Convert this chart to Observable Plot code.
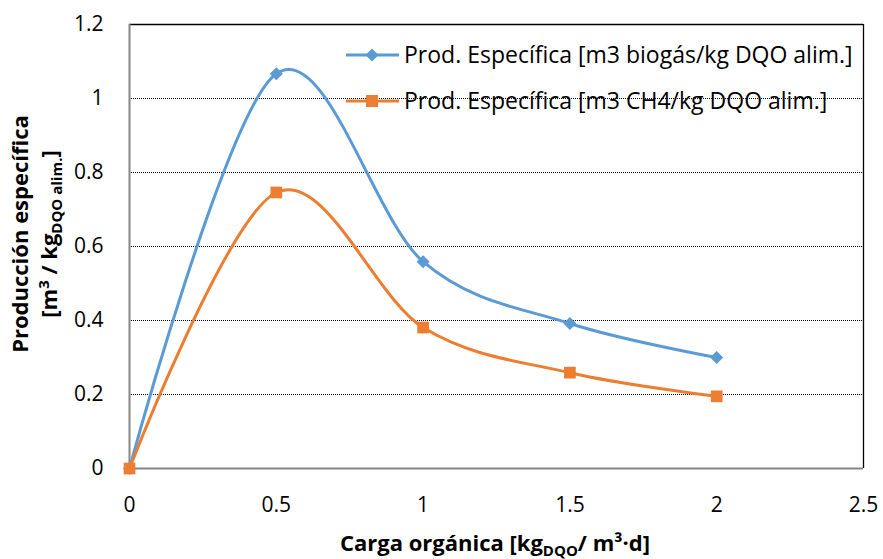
<!DOCTYPE html>
<html>
<head>
<meta charset="utf-8">
<script src="https://cdn.jsdelivr.net/npm/d3@7"></script>
<script src="https://cdn.jsdelivr.net/npm/@observablehq/plot@0.6"></script>
<style>
  html, body { margin: 0; padding: 0; background: #fff; }
  #chart svg { display: block; }
</style>
</head>
<body>
<div id="chart"></div>
<script>
// ---- Data ----
const cargaOrganica = [0, 0.5, 1, 1.5, 2];
const prodBiogas = [0, 1.067, 0.559, 0.392, 0.300];
const prodCH4 = [0, 0.746, 0.381, 0.259, 0.195];
const seriesNames = [
  "Prod. Específica [m3 biogás/kg DQO alim.]",
  "Prod. Específica [m3 CH4/kg DQO alim.]"
];
const seriesColors = ["#5B9BD5", "#ED7D31"];
const xTicks = [0, 0.5, 1, 1.5, 2, 2.5];
const yTicks = [0, 0.2, 0.4, 0.6, 0.8, 1, 1.2];

const biogasData = cargaOrganica.map((x, i) => ({x, y: prodBiogas[i]}));
const ch4Data = cargaOrganica.map((x, i) => ({x, y: prodCH4[i]}));

// rotated-square diamond symbol (Excel style)
const diamondSym = {
  draw(context, size) {
    const r = Math.sqrt(size / 2);
    context.moveTo(0, -r);
    context.lineTo(r, 0);
    context.lineTo(0, r);
    context.lineTo(-r, 0);
    context.closePath();
  }
};

const FONT = "'Open Sans', sans-serif";

const chart = Plot.plot({
  width: 883,
  height: 559,
  marginLeft: 129,
  marginRight: 20,
  marginTop: 24,
  marginBottom: 91,
  style: {fontFamily: FONT, fontSize: "21px", color: "#000", background: "#fff"},
  x: {domain: [0, 2.5]},
  y: {domain: [0, 1.2]},
  marks: [
    Plot.ruleY(yTicks.filter(d => d > 0 && d < 1.2), {stroke: "#000", strokeWidth: 1, strokeDasharray: "1,1"}),
    Plot.ruleY([1.2], {stroke: "#000", strokeWidth: 1.3}),
    Plot.ruleX([2.5], {stroke: "#000", strokeWidth: 1.3}),
    Plot.ruleX([0], {stroke: "#868686", strokeWidth: 2}),
    Plot.ruleY([0], {stroke: "#868686", strokeWidth: 2}),
    Plot.axisX({ticks: xTicks, tickSize: 0, tickPadding: 29, tickFormat: d => String(d), label: null, fontSize: 21}),
    Plot.axisY({ticks: yTicks, tickSize: 0, tickPadding: 26, tickFormat: d => String(d), label: null, fontSize: 21}),
    Plot.line(biogasData, {x: "x", y: "y", stroke: seriesColors[0], strokeWidth: 3, curve: "cardinal"}),
    Plot.dot(biogasData, {x: "x", y: "y", fill: seriesColors[0], symbol: diamondSym, r: 5.2, stroke: "none"}),
    Plot.line(ch4Data, {x: "x", y: "y", stroke: seriesColors[1], strokeWidth: 3, curve: "cardinal"}),
    Plot.dot(ch4Data, {x: "x", y: "y", fill: seriesColors[1], symbol: "square", r: 6.6, stroke: "none"})
  ]
});

document.getElementById("chart").appendChild(chart);

const svg = d3.select(chart);

// ---- Legend ----
const legend = svg.append("g").attr("font-family", FONT).attr("font-size", 23).attr("text-anchor", "start");
const legendY = [55, 101];
seriesNames.forEach((name, i) => {
  const y = legendY[i];
  legend.append("line").attr("x1", 346).attr("x2", 399).attr("y1", y).attr("y2", y)
    .attr("stroke", seriesColors[i]).attr("stroke-width", 3);
  if (i === 0) {
    legend.append("path").attr("d", `M372,${y - 6.5}L378.5,${y}L372,${y + 6.5}L365.5,${y}Z`).attr("fill", seriesColors[i]);
  } else {
    legend.append("rect").attr("x", 366).attr("y", y - 6).attr("width", 12).attr("height", 12).attr("fill", seriesColors[i]);
  }
  legend.append("text").attr("x", 404).attr("y", y).attr("dy", "0.35em").attr("text-anchor", "start")
    .attr("fill", "#000").text(name);
});

// ---- Axis titles ----
const xt = svg.append("text").attr("x", 495).attr("y", 551).attr("text-anchor", "middle")
  .attr("font-family", FONT).attr("font-size", 22).attr("font-weight", "bold").attr("fill", "#000");
xt.append("tspan").text("Carga orgánica [kg");
xt.append("tspan").attr("font-size", 15).attr("dy", 5).text("DQO");
xt.append("tspan").attr("dy", -5).text("/ m³·d]");

const yt = svg.append("g").attr("transform", "translate(0,234) rotate(-90)")
  .attr("font-family", FONT).attr("font-size", 22).attr("font-weight", "bold").attr("fill", "#000");
yt.append("text").attr("x", 0).attr("y", 28).attr("text-anchor", "middle").text("Producción específica");
const l2 = yt.append("text").attr("x", 0).attr("y", 57).attr("text-anchor", "middle");
l2.append("tspan").text("[m");
l2.append("tspan").attr("font-size", 15).attr("dy", -8).text("3");
l2.append("tspan").attr("dy", 8).text(" / kg");
l2.append("tspan").attr("font-size", 15).attr("dy", 5).text("DQO alim.");
l2.append("tspan").attr("dy", -5).text("]");
</script>
</body>
</html>
